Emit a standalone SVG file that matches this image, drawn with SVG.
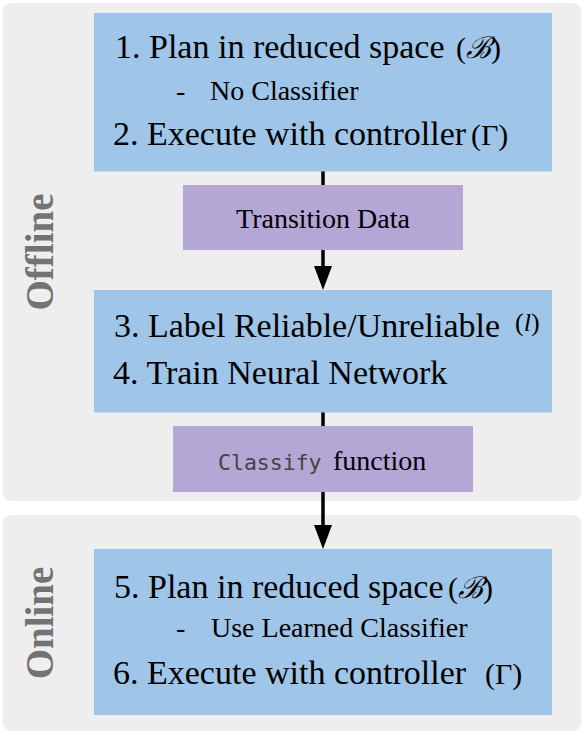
<svg xmlns="http://www.w3.org/2000/svg" width="585" height="733" viewBox="0 0 585 733">
  <defs>
    <marker id="ah" markerUnits="userSpaceOnUse" markerWidth="24" markerHeight="18" refX="9" refY="9" orient="auto">
      <path d="M0,0 L24,9 L0,18 z" fill="#000"/>
    </marker>
  </defs>

  <g id="offline-panel">
    <rect x="2.5" y="3" width="579" height="498" rx="9" fill="#eeeeee"/>
    <text font-family="Liberation Serif" font-size="39" font-weight="bold" fill="#737373" transform="translate(53,252) rotate(-90)" text-anchor="middle">Offline</text>
  </g>
  <g id="online-panel">
    <rect x="2.5" y="515" width="579" height="216" rx="9" fill="#eeeeee"/>
    <text font-family="Liberation Serif" font-size="39" font-weight="bold" fill="#737373" transform="translate(53,623) rotate(-90)" text-anchor="middle">Online</text>
  </g>

  <g id="connectors" stroke="#000" stroke-width="3.5" fill="none">
    <line x1="323" y1="171" x2="323" y2="275" marker-end="url(#ah)"/>
    <line x1="323" y1="412" x2="323" y2="534" marker-end="url(#ah)"/>
  </g>

  <g id="step-1-2" font-family="Times New Roman, serif">
    <rect x="94" y="13" width="458" height="158.5" fill="#9fc5e8"/>
    <text font-size="34" x="115" y="58">1. Plan in reduced space</text>
    <text font-size="30" x="456" y="58">(<tspan font-style="italic">ℬ</tspan>)</text>
    <text font-size="28" x="176" y="100">-</text>
    <text font-size="28" x="210" y="100">No Classifier</text>
    <text font-size="34" x="113" y="145">2. Execute with controller</text>
    <text font-size="30" x="471" y="145">(Γ)</text>
  </g>

  <g id="transition-data" font-family="Times New Roman, serif">
    <rect x="183" y="185" width="280" height="65" fill="#b4a7d6"/>
    <text font-size="28" x="323" y="228" text-anchor="middle">Transition Data</text>
  </g>

  <g id="step-3-4" font-family="Times New Roman, serif">
    <rect x="94" y="290" width="458" height="122.5" fill="#9fc5e8"/>
    <text font-size="34" x="114" y="337">3. Label Reliable/Unreliable</text>
    <text font-size="26" x="515" y="331">(<tspan font-style="italic">l</tspan>)</text>
    <text font-size="34" x="113" y="384">4. Train Neural Network</text>
  </g>

  <g id="classify-function">
    <rect x="173" y="426" width="300" height="66" fill="#b4a7d6"/>
    <text font-family="DejaVu Sans Mono, monospace" font-size="21.5" fill="#434343" x="218" y="470">Classify</text>
    <text font-family="Times New Roman, serif" font-size="28" x="333" y="470">function</text>
  </g>

  <g id="step-5-6" font-family="Times New Roman, serif">
    <rect x="94" y="549" width="458" height="166" fill="#9fc5e8"/>
    <text font-size="34" x="114" y="598">5. Plan in reduced space</text>
    <text font-size="30" x="448" y="598">(<tspan font-style="italic">ℬ</tspan>)</text>
    <text font-size="28" x="176" y="637">-</text>
    <text font-size="28" x="211" y="637">Use Learned Classifier</text>
    <text font-size="34" x="113" y="684">6. Execute with controller</text>
    <text font-size="30" x="485" y="684">(Γ)</text>
  </g>
</svg>
